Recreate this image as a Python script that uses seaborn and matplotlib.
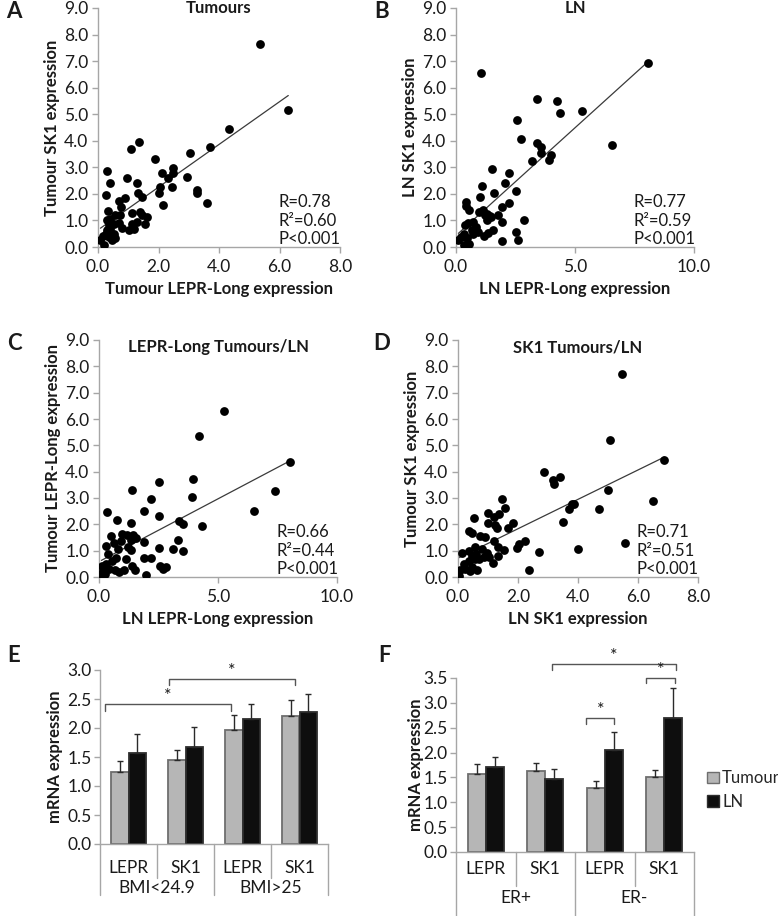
import numpy as np
import pandas as pd
import seaborn as sns
import matplotlib.pyplot as plt
import matplotlib.transforms as mtransforms
from matplotlib.patches import Patch

sns.set_style('white')
plt.rcParams['font.family'] = ['Lato', 'DejaVu Sans']

# Data
# A: tumour LEPR-Long vs tumour SK1
A_X = [5.35, 6.29, 4.34, 3.70, 3.04, 1.89, 1.10, 1.37, 2.47, 2.47, 2.10, 2.33, 2.93, 2.05, 2.03,
       2.44, 2.15, 3.26, 3.28, 3.59, 0.30, 0.41, 0.26, 0.95, 1.30, 1.32, 1.45, 0.88, 0.70, 0.76,
       0.32, 1.12, 1.39, 1.45, 1.61, 1.56, 1.28, 1.12, 1.18, 1.01, 0.57, 0.74, 0.41, 0.30, 0.52,
       0.68, 0.79, 0.41, 0.26, 0.52, 0.57, 0.46, 0.35, 0.08, 0.21, 0.16, 0.30, 0.35]
A_Y = [7.64, 5.16, 4.45, 3.78, 3.53, 3.30, 3.68, 3.97, 2.98, 2.77, 2.77, 2.60, 2.64, 2.27, 2.04,
       2.27, 1.57, 2.14, 2.02, 1.66, 2.87, 2.42, 1.95, 2.58, 2.42, 2.04, 1.89, 1.83, 1.74, 1.51,
       1.36, 1.28, 1.32, 1.20, 1.13, 0.86, 0.94, 0.88, 0.69, 0.63, 1.20, 1.20, 1.07, 1.01, 0.88,
       0.91, 0.73, 0.69, 0.50, 0.50, 0.35, 0.25, 0.38, 0.28, 0.06, 0.43, 0.63, 0.82]

# B: LN LEPR-Long vs LN SK1
B_X = [8.08, 1.04, 3.39, 4.23, 4.38, 5.29, 2.56, 6.54, 2.72, 3.39, 3.56, 3.56, 4.01, 3.92, 3.18,
       1.51, 2.23, 2.04, 1.09, 1.58, 2.53, 0.99, 2.23, 1.93, 0.43, 0.43, 0.55, 0.98, 1.12, 1.32,
       1.43, 1.29, 1.78, 2.86, 1.92, 1.57, 1.34, 1.18, 2.52, 2.59, 1.93, 0.94, 0.84, 0.66, 0.52,
       0.38, 0.70, 0.34, 0.20, 0.10, 0.35, 0.56, 0.45, 0.73, 1.46, 1.22]
B_Y = [6.93, 6.57, 5.58, 5.50, 5.04, 5.13, 4.77, 3.83, 4.06, 3.93, 3.78, 3.55, 3.45, 3.26, 3.24,
       2.95, 2.78, 2.42, 2.28, 2.02, 2.12, 1.89, 1.66, 1.51, 1.70, 1.54, 1.41, 1.31, 1.39, 1.26,
       1.16, 1.01, 1.22, 1.01, 0.93, 0.65, 0.53, 0.42, 0.57, 0.28, 0.23, 0.57, 0.76, 0.63, 0.91,
       0.81, 0.94, 0.50, 0.38, 0.28, 0.06, 0.13, 0.35, 0.48, 1.13, 1.20]

# C: LN vs tumour LEPR-Long
C_X = [5.27, 4.20, 8.03, 3.93, 2.50, 7.39, 1.39, 3.89, 2.18, 1.88, 2.53, 6.50, 0.32, 0.77, 1.33,
       3.36, 3.51, 4.34, 0.49, 0.97, 1.19, 1.43, 1.57, 1.36, 0.94, 0.63, 1.88, 3.33, 0.31, 0.81,
       1.22, 1.33, 2.50, 3.12, 3.51, 0.39, 0.72, 1.14, 1.88, 2.18, 0.13, 0.28, 0.55, 0.17, 0.42,
       0.66, 1.05, 1.40, 1.53, 2.56, 2.67, 2.81, 1.99, 0.10, 0.84, 0.24]
C_Y = [6.31, 5.35, 4.35, 3.72, 3.59, 3.27, 3.31, 3.04, 2.95, 2.51, 2.33, 2.50, 2.45, 2.18, 2.05,
       2.12, 2.03, 1.93, 1.55, 1.65, 1.58, 1.58, 1.50, 1.42, 1.36, 1.31, 1.33, 1.42, 1.17, 1.05,
       1.14, 1.01, 1.10, 1.05, 0.98, 0.86, 0.74, 0.68, 0.74, 0.74, 0.42, 0.51, 0.61, 0.25, 0.32,
       0.28, 0.28, 0.42, 0.25, 0.42, 0.32, 0.38, 0.06, 0.10, 0.19, 0.10]

# D: LN vs tumour SK1
D_X = [5.45, 5.06, 6.88, 2.87, 3.18, 3.21, 3.41, 5.00, 6.50, 1.45, 1.58, 3.71, 3.79, 3.88, 4.70,
       1.00, 1.35, 1.19, 0.53, 1.00, 1.22, 1.31, 1.65, 1.84, 3.50, 0.38, 0.48, 0.72, 0.89, 5.55,
       1.19, 2.24, 2.03, 1.33, 1.53, 1.95, 2.70, 4.00, 1.34, 1.16, 2.37, 0.13, 0.37, 0.55, 0.79,
       0.96, 0.61, 0.86, 0.69, 1.02, 0.48, 0.38, 0.21, 0.45, 0.63, 0.41, 0.06, 0.02, 0.24, 0.55]
D_Y = [7.69, 5.20, 4.45, 3.97, 3.70, 3.52, 3.78, 3.31, 2.89, 2.95, 2.62, 2.60, 2.76, 2.76, 2.60,
       2.43, 2.41, 2.26, 2.24, 2.05, 1.98, 1.86, 1.86, 2.05, 2.07, 1.76, 1.67, 1.57, 1.52, 1.29,
       1.37, 1.37, 1.27, 1.14, 1.04, 1.12, 0.95, 1.05, 0.79, 0.55, 0.28, 0.91, 0.98, 1.14, 1.08,
       0.91, 0.89, 0.76, 0.70, 0.76, 0.80, 0.61, 0.48, 0.38, 0.25, 0.23, 0.25, 0.03, 0.32, 0.70]

# E / F bar charts
GENES = ['LEPR', 'SK1', 'LEPR', 'SK1']
E_GROUPS = ['BMI<24.9', 'BMI>25']
E_TUMOUR = [1.24, 1.44, 1.97, 2.20]
E_TUMOUR_ERR = [0.19, 0.18, 0.26, 0.28]
E_LN = [1.57, 1.67, 2.15, 2.27]
E_LN_ERR = [0.33, 0.35, 0.27, 0.32]

F_GROUPS = ['ER+', 'ER-']
F_TUMOUR = [1.56, 1.62, 1.29, 1.50]
F_TUMOUR_ERR = [0.21, 0.17, 0.13, 0.15]
F_LN = [1.70, 1.47, 2.05, 2.70]
F_LN_ERR = [0.22, 0.20, 0.37, 0.59]

GREY = '#a6a6a6'
TXT = '#1a1a1a'
W, H = 778, 916

fig = plt.figure(figsize=(W / 100, H / 100), dpi=100)


def box(l, t, r, b):
    return fig.add_axes([l / W, 1 - b / H, (r - l) / W, (b - t) / H])


def base_style(ax):
    sns.despine(ax=ax)
    for s in ['left', 'bottom']:
        ax.spines[s].set_color(GREY)
        ax.spines[s].set_linewidth(1)
    ax.tick_params(bottom=True, left=True, direction='out', length=4, width=1, color=GREY,
                   labelsize=12.5, labelcolor=TXT, pad=3)


def scatter_panel(ax, x, y, xmax, xstep, title, title_y, xlabel, ylabel, stats, px):
    w_px, h_px = px
    sns.regplot(x=x, y=y, ax=ax, scatter=False, ci=None, truncate=True,
                line_kws=dict(color='#3a3a3a', lw=0.9))
    sns.scatterplot(x=x, y=y, ax=ax, color='black', s=40, linewidth=0, zorder=3)
    ax.set_xlim(0, xmax)
    ax.set_ylim(0, 9)
    ax.set_xticks(np.arange(0, xmax + 0.01, xstep))
    ax.set_yticks(np.arange(0, 9.01, 1))
    ax.xaxis.set_major_formatter('{x:.1f}')
    ax.yaxis.set_major_formatter('{x:.1f}')
    base_style(ax)
    ax.tick_params(axis='x', pad=5)
    ax.text(0.5, title_y, title, transform=ax.transAxes, ha='center', va='center',
            fontsize=12, fontweight='bold', color=TXT)
    ax.set_xlabel(xlabel, fontsize=12, fontweight='bold', color=TXT)
    ax.set_ylabel(ylabel, fontsize=12, fontweight='bold', color=TXT)
    ax.xaxis.set_label_coords(0.5, -42 / h_px)
    ax.xaxis.label.set_va('center')
    ax.yaxis.set_label_coords(-46 / w_px, 0.5)
    ax.yaxis.label.set_va('center')
    for i, s in enumerate(stats):
        ax.text(0.745, stats_y[i], s, transform=ax.transAxes, ha='left', va='center',
                fontsize=12, color=TXT)


stats_y = [0.19, 0.11, 0.032]

axA = box(98, 8, 340, 247)
scatter_panel(axA, A_X, A_Y, 8, 2, 'Tumours', 1.0, 'Tumour LEPR-Long expression',
              'Tumour SK1 expression', ['R=0.78', 'R²=0.60', 'P<0.001'], (242, 239))
axB = box(456, 8, 694, 247)
scatter_panel(axB, B_X, B_Y, 10, 5, 'LN', 1.0, 'LN LEPR-Long expression',
              'LN SK1 expression', ['R=0.77', 'R²=0.59', 'P<0.001'], (238, 239))
axC = box(99, 340, 337, 577)
scatter_panel(axC, C_X, C_Y, 10, 5, 'LEPR-Long Tumours/LN', 0.97, 'LN LEPR-Long expression',
              'Tumour LEPR-Long expression', ['R=0.66', 'R²=0.44', 'P<0.001'], (238, 237))
axD = box(458, 340, 698, 577)
scatter_panel(axD, D_X, D_Y, 8, 2, 'SK1 Tumours/LN', 0.97, 'LN SK1 expression',
              'Tumour SK1 expression', ['R=0.71', 'R²=0.51', 'P<0.001'], (240, 237))


def bar_panel(ax, tum, tum_err, ln, ln_err, groups, ymax, rows, brackets, ylab_off, px):
    w_px, h_px = px
    cats = [f'{groups[i // 2]} {g}' for i, g in enumerate(GENES)]
    df = pd.DataFrame({'cat': cats * 2,
                       'Sample': ['Tumour'] * 4 + ['LN'] * 4,
                       'mRNA': tum + ln})
    sns.barplot(data=df, x='cat', y='mRNA', hue='Sample', order=cats,
                palette={'Tumour': '#b6b6b6', 'LN': '#0e0e0e'}, width=0.6,
                errorbar=None, legend=False, ax=ax)
    edges = ['#6e6e6e', '#2e2e2e']
    for cont, vals, errs, ec in zip(ax.containers, [tum, ln], [tum_err, ln_err], edges):
        xs = []
        for p in cont.patches:
            p.set_edgecolor(ec)
            p.set_linewidth(1.3)
            xs.append(p.get_x() + p.get_width() / 2)
        ax.errorbar(xs, vals, yerr=[np.zeros(len(errs)), errs], fmt='none',
                    ecolor='#2a2a2a', elinewidth=1, capsize=2.5, capthick=1, zorder=4)
    ax.set_ylim(0, ymax)
    ax.set_xlim(-0.5, 3.5)
    ax.set_yticks(np.arange(0, ymax + 0.01, 0.5))
    ax.yaxis.set_major_formatter('{x:.1f}')
    base_style(ax)
    ax.tick_params(axis='y', pad=2)
    ax.tick_params(axis='x', bottom=False, labelbottom=False)
    ax.set_xlabel('')
    ax.set_ylabel('mRNA expression', fontsize=12, fontweight='bold', color=TXT)
    ax.yaxis.set_label_coords(-ylab_off / w_px, 0.5)
    ax.yaxis.label.set_va('center')

    # two-level category axis
    r1, r2, inner, outer = rows
    tr = mtransforms.blended_transform_factory(ax.transData, ax.transAxes)
    for i, g in enumerate(GENES):
        ax.text(i, r1, g, transform=tr, ha='center', va='center', fontsize=12.5, color=TXT)
    for j, g in enumerate(groups):
        ax.text(2 * j + 0.5, r2, g, transform=tr, ha='center', va='center', fontsize=12.5,
                color=TXT)
    for xb in [-0.5, 1.5, 3.5]:
        ax.plot([xb, xb], [0, outer], transform=tr, color=GREY, lw=1, clip_on=False)
    for xb in [0.5, 2.5]:
        ax.plot([xb, xb], [0, inner], transform=tr, color=GREY, lw=1, clip_on=False)

    # significance brackets
    for x1, x2, y, leg in brackets:
        ax.plot([x1, x1, x2, x2], [leg, y, y, leg], color='#555555', lw=1, clip_on=False)
        ax.text((x1 + x2) / 2, y, '*', ha='center', va='bottom', fontsize=13, color=TXT)


axE = box(100, 670, 328, 844)
bar_panel(axE, E_TUMOUR, E_TUMOUR_ERR, E_LN, E_LN_ERR, E_GROUPS, 3.0,
          (-0.14, -0.255, -0.195, -0.293),
          [(-0.41, 1.80, 2.41, 2.29), (0.71, 2.92, 2.84, 2.74)], 45, (228, 174))

axF = box(456, 678, 694, 852)
bar_panel(axF, F_TUMOUR, F_TUMOUR_ERR, F_LN, F_LN_ERR, F_GROUPS, 3.5,
          (-0.10, -0.265, -0.195, -0.37),
          [(1.69, 2.16, 2.69, 2.58), (2.70, 3.18, 3.50, 3.39), (1.12, 3.19, 3.79, 3.67)],
          40, (238, 174))
axF.legend(handles=[Patch(facecolor='#b6b6b6', edgecolor='#6e6e6e', label='Tumour'),
                    Patch(facecolor='#0e0e0e', edgecolor='#2e2e2e', label='LN')],
           loc='center left', bbox_to_anchor=(1.055, 0.356), frameon=False, fontsize=12,
           handlelength=0.7, handleheight=0.7, handletextpad=0.2, labelspacing=0.45,
           borderaxespad=0, borderpad=0)

# panel letters
for letter, (lx, ly) in {'A': (14, 12), 'B': (382, 12), 'C': (14, 343), 'D': (382, 343),
                         'E': (14, 655), 'F': (384, 655)}.items():
    fig.text(lx / W, 1 - ly / H, letter, ha='center', va='center', fontsize=16,
             fontweight='bold', color=TXT)

fig.savefig('out.png', dpi=100)
